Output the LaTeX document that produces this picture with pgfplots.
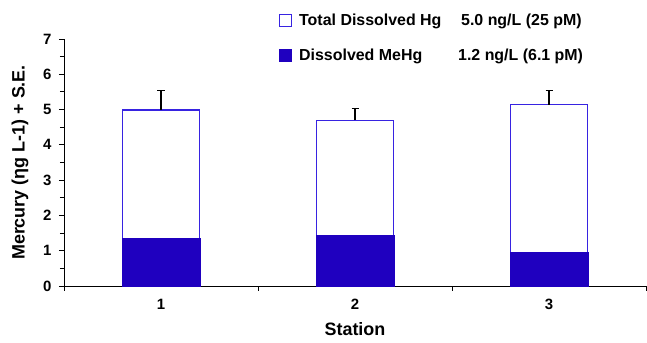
\documentclass[border=0pt]{standalone}
\usepackage{pgfplots}
\pgfplotsset{compat=1.18}
\usepackage{fontspec}
\setmainfont{Liberation Sans}
\definecolor{mhg}{RGB}{31,0,191}
\definecolor{edge}{RGB}{55,35,225}
\pgfplotsset{sqleg/.style={legend image code/.code={\draw[##1, line width=1bp] (0bp,-6bp) rectangle (12bp,6bp);}}}
\begin{document}
\begin{tikzpicture}
\begin{axis}[
  name=ax,
  scale only axis, width=582bp, height=247bp,
  xmin=0.5, xmax=3.5, ymin=0, ymax=7,
  axis x line=bottom, axis y line=left,
  axis line style={-, line width=0.9bp, black},
  xtick={0.5,1.5,2.5,3.5}, xticklabels={},
  extra x ticks={1,2,3}, extra x tick labels={1,2,3},
  extra x tick style={major tick length=0pt, xticklabel style={yshift=-10bp}},
  ytick={0,1,...,7}, minor ytick={0.5,1.5,...,6.5},
  tick align=outside, major tick length=5bp, minor tick length=4bp,
  tick style={black, line width=0.9bp},
  /pgf/number format/assume math mode=true,
  ticklabel style={font=\fontsize{15}{17}\selectfont\bfseries},
  yticklabel style={xshift=-4bp},
  xlabel={Station}, ylabel={Mercury (ηg L-1) + S.E.},
  label style={font=\fontsize{18}{20}\selectfont\bfseries},
  xlabel style={at={(axis description cs:0.5,-0.174)}, anchor=center},
  ylabel style={at={(axis description cs:-0.0756,0.5)}, anchor=center},
  legend style={draw=none, fill=none, at={(0.3694,1.11)}, anchor=north west,
    font=\fontsize{16}{18}\selectfont\bfseries, row sep=18bp, inner sep=0pt,
    /tikz/every odd column/.append style={column sep=5bp}},
  legend cell align=left,
  clip=false,
]
\addplot[ybar, sqleg, bar width=0.4, bar shift=0pt, fill=white, draw=edge, line width=1.2bp]
  coordinates {(1,4.99) (2,4.70) (3,5.14)};
\addlegendentry{\makebox[162bp][l]{Total Dissolved Hg}5.0 ng/L (25 pM)}
\addplot[draw=none, mark=none, forget plot,
  error bars/.cd, y dir=plus, y explicit,
  error bar style={black, line width=1.2bp},
  error mark options={black, rotate=90, mark size=3.5bp, line width=1.2bp}]
  coordinates {(1,4.99) +- (0,0.56) (2,4.70) +- (0,0.34) (3,5.14) +- (0,0.39)};
\addplot[ybar, sqleg, bar width=0.4, bar shift=0pt, fill=mhg, draw=mhg, line width=0.5bp]
  coordinates {(1,1.36) (2,1.44) (3,0.95)};
\addlegendentry{\makebox[159bp][l]{Dissolved MeHg}1.2 ng/L (6.1 pM)}
\end{axis}
\pgfresetboundingbox
\path ([xshift=-64bp,yshift=-57bp]ax.south west) rectangle ([xshift=1bp,yshift=39bp]ax.north east);
\end{tikzpicture}
\end{document}
